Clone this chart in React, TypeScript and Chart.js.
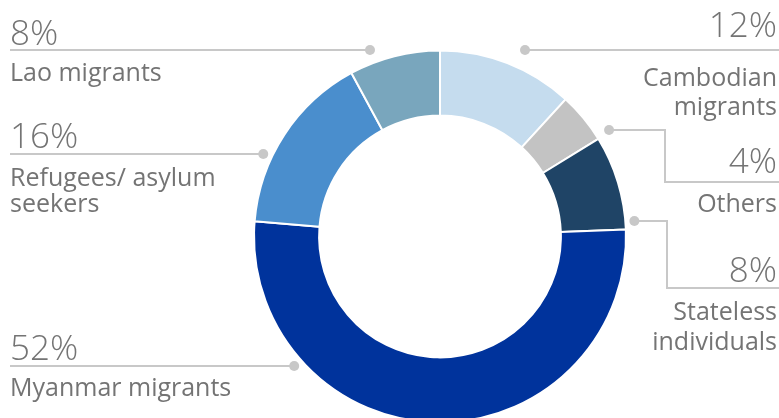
import React, { useEffect, useRef } from "react";
import { Chart, registerables } from "chart.js";

Chart.register(...registerables);

// ---- data ----
const categories = [
  "Cambodian migrants",
  "Others",
  "Stateless individuals",
  "Myanmar migrants",
  "Refugees/ asylum seekers",
  "Lao migrants",
];
const shares = [11.8, 4.4, 8.2, 51.9, 15.8, 7.9];
const sliceColors = ["#c5dcee", "#c3c3c3", "#1f4466", "#00339c", "#4a8ecd", "#79a6bd"];
const labelLines = [
  ["Cambodian", "migrants"],
  ["Others"],
  ["Stateless", "individuals"],
  ["Myanmar migrants"],
  ["Refugees/ asylum", "seekers"],
  ["Lao migrants"],
];

// ---- callout layout (annotation placement, not data) ----
type Callout = {
  side: "left" | "right";
  angle: number; // degrees clockwise from top where the leader dot sits
  gap: number; // distance of dot outside the ring
  elbowX?: number;
  railY?: number;
  pctOff: number;
  textOff: number;
  lh: number;
};
const callouts: Callout[] = [
  { side: "right", angle: 24.5, gap: 20, pctOff: -13, textOff: 36, lh: 29 },
  { side: "right", angle: 57.7, gap: 15, elbowX: 665, railY: 182, pctOff: -9, textOff: 30, lh: 29 },
  { side: "right", angle: 85.4, gap: 10, elbowX: 667, railY: 288, pctOff: -6, textOff: 32, lh: 30 },
  { side: "left", angle: 228.4, gap: 10, pctOff: -6, textOff: 30, lh: 26 },
  { side: "left", angle: 295, gap: 10, pctOff: -6, textOff: 32, lh: 26 },
  { side: "left", angle: 339.4, gap: 14, pctOff: -5, textOff: 31, lh: 26 },
];

const TEXT_COLOR = "#747474";
const LINE_COLOR = "#c8c8c8";
const FONT = "'Open Sans', 'Noto Sans', sans-serif";

const calloutPlugin = {
  id: "callouts",
  afterDraw(chart: any) {
    const ctx: CanvasRenderingContext2D = chart.ctx;
    const meta = chart.getDatasetMeta(0);
    const W = chart.width;
    ctx.save();
    meta.data.forEach((el: any, i: number) => {
      const L = callouts[i];
      if (!L) return;
      const { x: cx, y: cy, outerRadius } = el.getProps(["x", "y", "outerRadius"], true);
      const a = (L.angle * Math.PI) / 180;
      const r = outerRadius - 1 + L.gap;
      const dx = cx + r * Math.sin(a);
      const dy = Math.round(cy - r * Math.cos(a));
      ctx.strokeStyle = LINE_COLOR;
      ctx.lineWidth = 2;
      ctx.beginPath();
      let rail = dy;
      if (L.side === "left") {
        ctx.moveTo(10, dy);
        ctx.lineTo(dx, dy);
      } else if (L.elbowX !== undefined && L.railY !== undefined) {
        rail = L.railY;
        ctx.moveTo(dx, dy);
        ctx.lineTo(L.elbowX, dy);
        ctx.lineTo(L.elbowX, L.railY);
        ctx.lineTo(W, L.railY);
      } else {
        ctx.moveTo(dx, dy);
        ctx.lineTo(W, dy);
      }
      ctx.stroke();
      ctx.fillStyle = LINE_COLOR;
      ctx.beginPath();
      ctx.arc(dx, dy, 5, 0, Math.PI * 2);
      ctx.fill();

      const tx = L.side === "left" ? 10 : W - 2;
      ctx.textAlign = L.side === "left" ? "left" : "right";
      ctx.textBaseline = "alphabetic";
      ctx.fillStyle = TEXT_COLOR;
      ctx.font = `300 35px ${FONT}`;
      const v = chart.data.datasets[0].data[i] as number;
      ctx.fillText(`${Math.round(v)}%`, tx, rail + L.pctOff);
      ctx.font = `400 25px ${FONT}`;
      labelLines[i].forEach((line, j) => {
        ctx.fillText(line, tx, rail + L.textOff + j * L.lh);
      });
    });
    ctx.restore();
  },
};

export default function App() {
  const ref = useRef<HTMLCanvasElement | null>(null);
  useEffect(() => {
    if (!ref.current) return;
    const chart = new Chart(ref.current, {
      type: "doughnut",
      data: {
        labels: categories,
        datasets: [
          {
            data: shares,
            backgroundColor: sliceColors,
            borderColor: "#ffffff",
            borderWidth: 2,
          },
        ],
      },
      options: {
        responsive: false,
        animation: false,
        cutout: "65%",
        rotation: 0,
        layout: { padding: { left: 253, right: 152, top: 49.5, bottom: 76.5 } },
        plugins: {
          legend: { display: false },
          tooltip: { enabled: false },
          title: { display: false },
        },
      },
      plugins: [calloutPlugin],
    });
    return () => chart.destroy();
  }, []);
  return (
    <div
      style={{
        position: "absolute",
        left: 0,
        top: 0,
        width: 779,
        height: 418,
        overflow: "hidden",
        background: "#ffffff",
      }}
    >
      <canvas ref={ref} width={779} height={500} style={{ width: 779, height: 500, display: "block" }} />
    </div>
  );
}
